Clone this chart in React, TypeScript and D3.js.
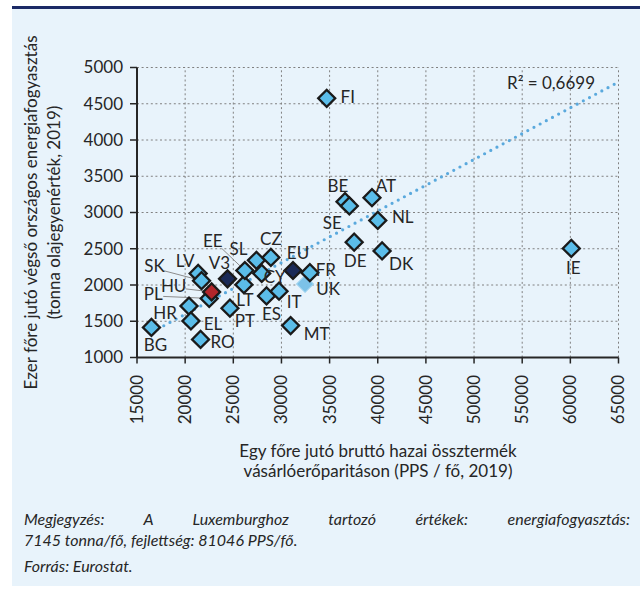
import React, { useEffect, useRef } from 'react';
import * as d3 from 'd3';

// ---- Data ----
const countries = ['UK', 'BG', 'HR', 'EL', 'RO', 'LV', 'SK', 'PL', 'HU', 'PT', 'LT', 'EE', 'SL', 'CY', 'CZ', 'ES', 'IT', 'MT', 'FR', 'FI', 'BE', 'SE', 'AT', 'NL', 'DE', 'DK', 'IE', 'V3', 'EU'];
const gdpPps = [32450, 16500, 20400, 20600, 21600, 21350, 21700, 22500, 22750, 24650, 26100, 26200, 27400, 27950, 28900, 28450, 29750, 30950, 32950, 34700, 36600, 37050, 39400, 40000, 37550, 40450, 60100, 24400, 31200];
const energyUse = [2015, 1415, 1710, 1505, 1250, 2160, 2060, 1815, 1905, 1680, 2005, 2200, 2340, 2160, 2380, 1850, 1915, 1440, 2170, 4575, 3150, 3090, 3205, 2890, 2590, 2470, 2505, 2085, 2200];
const markerKind = ['uk', 'c', 'c', 'c', 'c', 'c', 'c', 'c', 'hu', 'c', 'c', 'c', 'c', 'c', 'c', 'c', 'c', 'c', 'c', 'c', 'c', 'c', 'c', 'c', 'c', 'c', 'c', 'agg', 'agg'];

const trendX = [16500, 65000];
const trendY = [1347, 4800];
const rSquaredLabel = 'R² = 0,6699';

const xTicks = [15000, 20000, 25000, 30000, 35000, 40000, 45000, 50000, 55000, 60000, 65000];
const yTicks = [1000, 1500, 2000, 2500, 3000, 3500, 4000, 4500, 5000];

const yTitle = ['Ezer főre jutó végső országos energiafogyasztás', '(tonna olajegyenérték, 2019)'];
const xTitle = ['Egy főre jutó bruttó hazai össztermék', 'vásárlóerőparitáson (PPS / fő, 2019)'];
const notes = [
  'Megjegyzés: A Luxemburghoz tartozó értékek: energiafogyasztás:',
  '7145 tonna/fő, fejlettség: 81046 PPS/fő.',
  'Forrás: Eurostat.',
];

// ---- Label placement (pixel offsets from the marker centre) ----
const labelOffset: Record<string, [number, number]> = {
  BG: [4, 18], HR: [-24, 7.5], EL: [22, 3], RO: [22, 2.5], LV: [-13, -12], SK: [-47, -15],
  HU: [-38, -6], PL: [-56, -4.5], V3: [-8, -16], LT: [1, 15.5], PT: [15, 13], EE: [-32, -29],
  SL: [-18, -11], CZ: [0, -18], CY: [13, 4], EU: [5, -17], FR: [16, -3], UK: [23, 5],
  IT: [15, 10.5], ES: [5, 18], MT: [26, 8.5], FI: [21, -1], BE: [-7, -16], SE: [-17, 17],
  AT: [14, -11.5], NL: [25, -3], DE: [1, 19], DK: [19, 13], IE: [2, 20],
};
const leaderStart: Record<string, [number, number]> = {
  SK: [-38, -10], HU: [-26, -3], PL: [-46, -2], EE: [-23, -22],
};

const FONT = 'Lato, "Open Sans", sans-serif';
const TEXT = '#262626';

export default function App() {
  const W = 640, H = 590;
  const x = d3.scaleLinear().domain([15000, 65000]).range([137, 618.5]);
  const y = d3.scaleLinear().domain([1000, 5000]).range([357.5, 67.5]);
  const diamond = d3.symbol().type(d3.symbolSquare).size(144)();
  const trendLine = d3.line<number>().x((_, i) => x(trendX[i])).y((_, i) => y(trendY[i]))(trendX);
  const noteRef = useRef<SVGTextElement>(null);

  useEffect(() => {
    const el = noteRef.current;
    if (!el) return;
    const sel = d3.select(el);
    sel.style('word-spacing', '0px');
    const w = el.getComputedTextLength();
    const spaces = (notes[0].match(/ /g) || []).length;
    const extra = (606 - w) / spaces;
    sel.style('word-spacing', `${extra}px`);
  }, []);

  const fillFor = (k: string) => (k === 'hu' ? '#b3262b' : k === 'agg' ? '#1a2a57' : k === 'uk' ? '#7cc2e8' : '#5bbde9');

  return (
    <svg width={W} height={H} style={{ position: 'absolute', left: 0, top: 0, background: '#fff' }} fontFamily={FONT}>
      <rect x={12} y={9} width={628} height={577} fill="#e8f3fb" />
      <line x1={12} x2={640} y1={7.5} y2={7.5} stroke="#1b2a66" strokeWidth={3} />

      {/* grid */}
      {yTicks.map((t) => (
        <line key={'gy' + t} x1={x(15000)} x2={x(65000)} y1={y(t)} y2={y(t)} stroke="#808080" strokeWidth={1} strokeDasharray="2,2.6" />
      ))}
      {xTicks.map((t) => (
        <line key={'gx' + t} x1={x(t)} x2={x(t)} y1={y(1000)} y2={y(5000)} stroke="#808080" strokeWidth={1} strokeDasharray="2,2.6" />
      ))}

      {/* axes */}
      <line x1={x(15000)} x2={x(15000)} y1={y(5000)} y2={y(1000)} stroke="#262626" strokeWidth={2} />
      <line x1={x(15000)} x2={x(65000)} y1={y(1000)} y2={y(1000)} stroke="#262626" strokeWidth={2} />
      {yTicks.map((t) => (
        <g key={'yt' + t}>
          <line x1={x(15000) - 7} x2={x(15000)} y1={y(t)} y2={y(t)} stroke="#262626" strokeWidth={1.5} />
          <text x={123} y={y(t)} dy="0.35em" textAnchor="end" fontSize={17} fill={TEXT}>{t}</text>
        </g>
      ))}
      {xTicks.map((t) => (
        <g key={'xt' + t}>
          <line x1={x(t)} x2={x(t)} y1={y(1000)} y2={y(1000) + 6} stroke="#262626" strokeWidth={1.5} />
          <text transform={`translate(${x(t)},375) rotate(-90)`} dy="0.35em" textAnchor="end" fontSize={17} fill={TEXT}>{t}</text>
        </g>
      ))}

      {/* axis titles */}
      <text transform={`translate(37,212.5) rotate(-90)`} textAnchor="middle" fontSize={17} fill={TEXT}>{yTitle[0]}</text>
      <text transform={`translate(60,212.5) rotate(-90)`} textAnchor="middle" fontSize={17} fill={TEXT}>{yTitle[1]}</text>
      <text x={378} y={457} textAnchor="middle" fontSize={17} fill={TEXT}>{xTitle[0]}</text>
      <text x={378} y={477} textAnchor="middle" fontSize={17} fill={TEXT}>{xTitle[1]}</text>

      {/* trend line */}
      <path d={trendLine || ''} fill="none" stroke="#5aa9dd" strokeWidth={3.2} strokeLinecap="round" strokeDasharray="0,7" />
      <text x={507} y={89} fontSize={17} fill={TEXT}>{rSquaredLabel}</text>

      {/* leader lines */}
      {countries.map((c, i) => {
        const s = leaderStart[c];
        if (!s) return null;
        const px = x(gdpPps[i]), py = y(energyUse[i]);
        return <line key={'ll' + c} x1={px + s[0]} y1={py + s[1]} x2={px} y2={py} stroke="#8c8c8c" strokeWidth={1} />;
      })}

      {/* markers */}
      {countries.map((c, i) => {
        const k = markerKind[i];
        return (
          <path
            key={'m' + c}
            d={diamond || ''}
            transform={`translate(${x(gdpPps[i])},${y(energyUse[i])}) rotate(45)`}
            fill={fillFor(k)}
            stroke={k === 'uk' ? '#9fd3ef' : '#1a1a1a'}
            strokeWidth={k === 'uk' ? 1 : 2.3}
          />
        );
      })}

      {/* labels */}
      {countries.map((c, i) => {
        const o = labelOffset[c] || [0, -16];
        return (
          <text key={'lb' + c} x={x(gdpPps[i]) + o[0]} y={y(energyUse[i]) + o[1]} dy="0.35em" textAnchor="middle" fontSize={17} fill={TEXT}>
            {c}
          </text>
        );
      })}

      {/* notes */}
      <text ref={noteRef} x={24} y={525} fontSize={16} fontStyle="italic" fill={TEXT}>{notes[0]}</text>
      <text x={24} y={546} fontSize={16} fontStyle="italic" fill={TEXT}>{notes[1]}</text>
      <text x={24} y={572} fontSize={16} fontStyle="italic" fill={TEXT}>{notes[2]}</text>
    </svg>
  );
}
